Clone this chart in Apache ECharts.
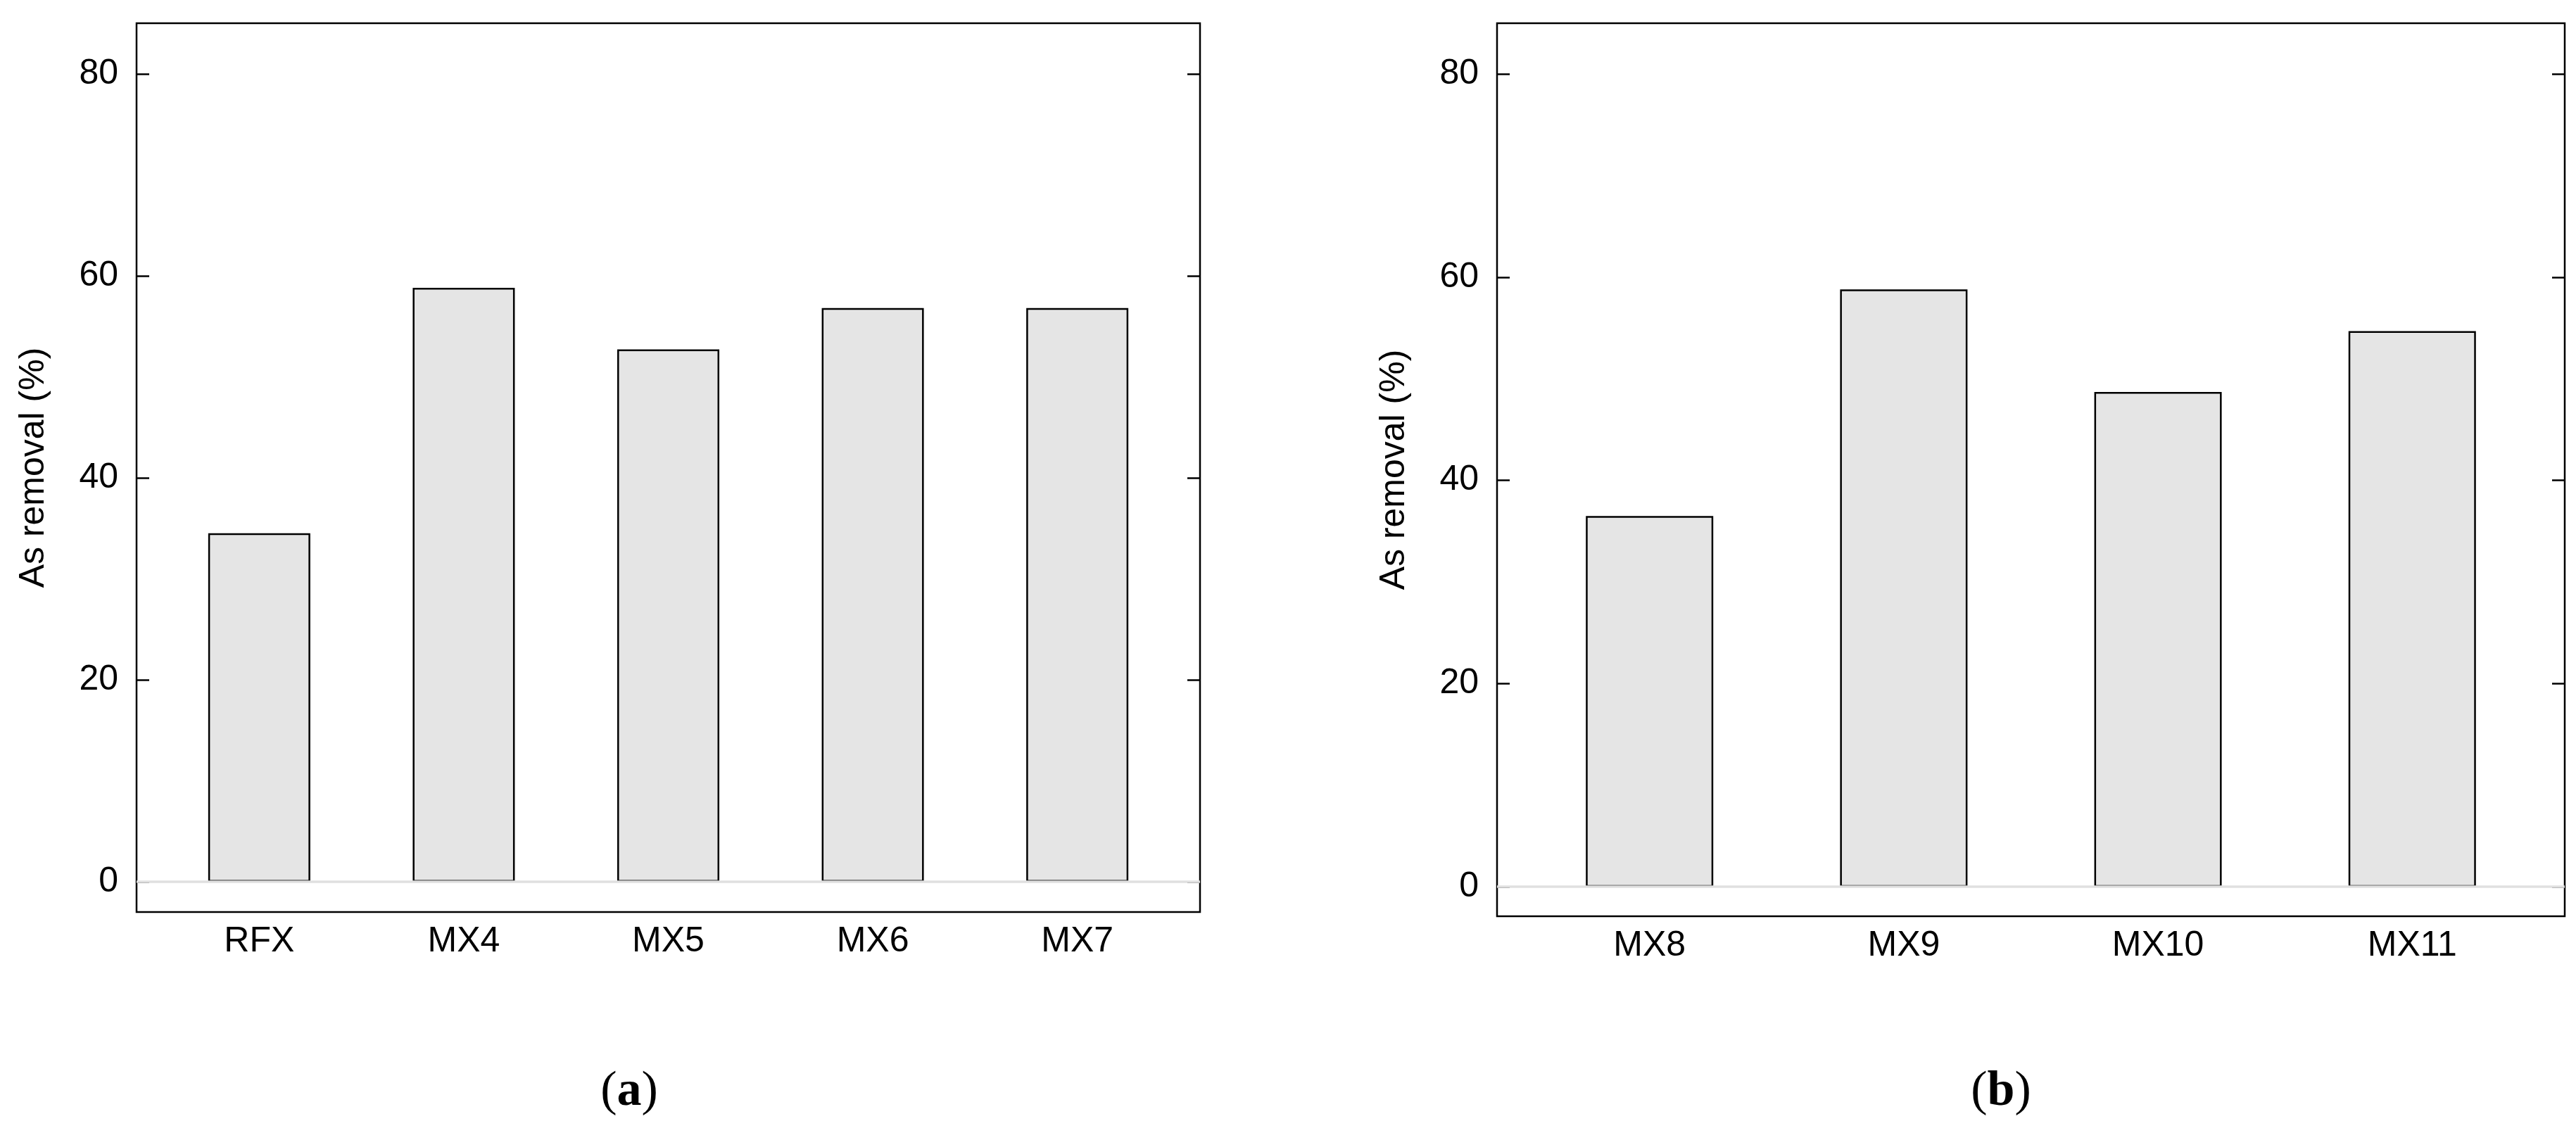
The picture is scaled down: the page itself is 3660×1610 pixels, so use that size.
<!DOCTYPE html>
<html>
<head>
<meta charset="utf-8">
<script src="https://cdn.jsdelivr.net/npm/echarts@6/dist/echarts.min.js"></script>
<style>
  html, body { margin: 0; padding: 0; background: #fff; }
  #chart { width: 3660px; height: 1610px; }
</style>
</head>
<body>
<div id="chart"></div>
<script>
// data
const categoriesA = ['RFX', 'MX4', 'MX5', 'MX6', 'MX7']
const removalA = [34.5, 58.8, 52.7, 56.8, 56.8]
const categoriesB = ['MX8', 'MX9', 'MX10', 'MX11']
const removalB = [36.5, 58.8, 48.7, 54.7]
const yTicks = [0, 20, 40, 60, 80]
const yName = 'As removal (%)'
const panelLabels = ['a', 'b']

const font = "'Liberation Sans', Arial, sans-serif"
const serif = "'Liberation Serif', 'Times New Roman', serif"
const fontSize = 50

// category axis built on a value scale so bars sit like R's barplot
const xAxisFor = (cats, gridIndex) => ({
  type: 'value',
  gridIndex: gridIndex,
  min: 0.4,
  max: cats.length + 0.6,
  axisLine: { show: false },
  axisTick: { show: false },
  splitLine: { show: false },
  axisLabel: {
    customValues: cats.map((c, i) => i + 1),
    formatter: (v) => cats[Math.round(v) - 1],
    color: '#000',
    fontFamily: font,
    fontSize: fontSize,
    margin: 17
  }
})

const yAxisFor = (gridIndex, min, isLeft) => ({
  type: 'value',
  gridIndex: gridIndex,
  position: isLeft ? 'left' : 'right',
  min: min,
  max: 85,
  name: isLeft ? yName : '',
  nameLocation: 'middle',
  nameGap: 121,
  nameTextStyle: { color: '#000', fontFamily: font, fontSize: fontSize },
  axisLine: { show: false },
  splitLine: { show: false },
  axisTick: {
    show: true,
    inside: true,
    length: 18,
    customValues: yTicks,
    lineStyle: { color: '#000', width: 2.5 }
  },
  axisLabel: {
    show: isLeft,
    customValues: yTicks,
    color: '#000',
    fontFamily: font,
    fontSize: fontSize,
    margin: 26
  }
})

const barSeries = (cats, vals, axisIdx, yIdx, width) => ({
  type: 'bar',
  xAxisIndex: axisIdx,
  yAxisIndex: yIdx,
  barWidth: width,
  z: 3,
  itemStyle: { color: '#e5e5e5', borderColor: '#000', borderWidth: 2.5 },
  data: vals.map((v, i) => [i + 1, v])
})

// light grey zero line under the bars
const zeroLine = (axisIdx, yIdx) => ({
  type: 'line',
  xAxisIndex: axisIdx,
  yAxisIndex: yIdx,
  z: 1,
  data: [],
  markLine: {
    silent: true,
    symbol: 'none',
    label: { show: false },
    lineStyle: { color: '#e0e0e0', width: 3.5, type: 'solid' },
    data: [{ yAxis: 0 }]
  }
})

const panelTitle = (letter, x) => ({
  text: '{p|(}{b|' + letter + '}{p|)}',
  left: x,
  top: 1512,
  textAlign: 'center',
  textStyle: {
    fontWeight: 'normal',
    rich: {
      p: { fontFamily: serif, fontSize: 70, fontWeight: 'normal', color: '#000' },
      b: { fontFamily: serif, fontSize: 70, fontWeight: 'bold', color: '#000' }
    }
  }
})

const chart = echarts.init(document.getElementById('chart'))
chart.setOption({
  backgroundColor: '#fff',
  animation: false,
  title: [panelTitle(panelLabels[0], 889), panelTitle(panelLabels[1], 2838)],
  grid: [
    { left: 194, right: 1955, top: 33, bottom: 314, show: true, borderColor: '#000', borderWidth: 2.5, containLabel: false },
    { left: 2127, right: 16, top: 33, bottom: 308, show: true, borderColor: '#000', borderWidth: 2.5, containLabel: false }
  ],
  xAxis: [xAxisFor(categoriesA, 0), xAxisFor(categoriesB, 1)],
  yAxis: [
    yAxisFor(0, -3.0, true),
    yAxisFor(0, -3.0, false),
    yAxisFor(1, -2.9, true),
    yAxisFor(1, -2.9, false)
  ],
  series: [
    zeroLine(0, 0),
    barSeries(categoriesA, removalA, 0, 0, 145),
    zeroLine(1, 2),
    barSeries(categoriesB, removalB, 1, 2, 181)
  ]
})
</script>
</body>
</html>
